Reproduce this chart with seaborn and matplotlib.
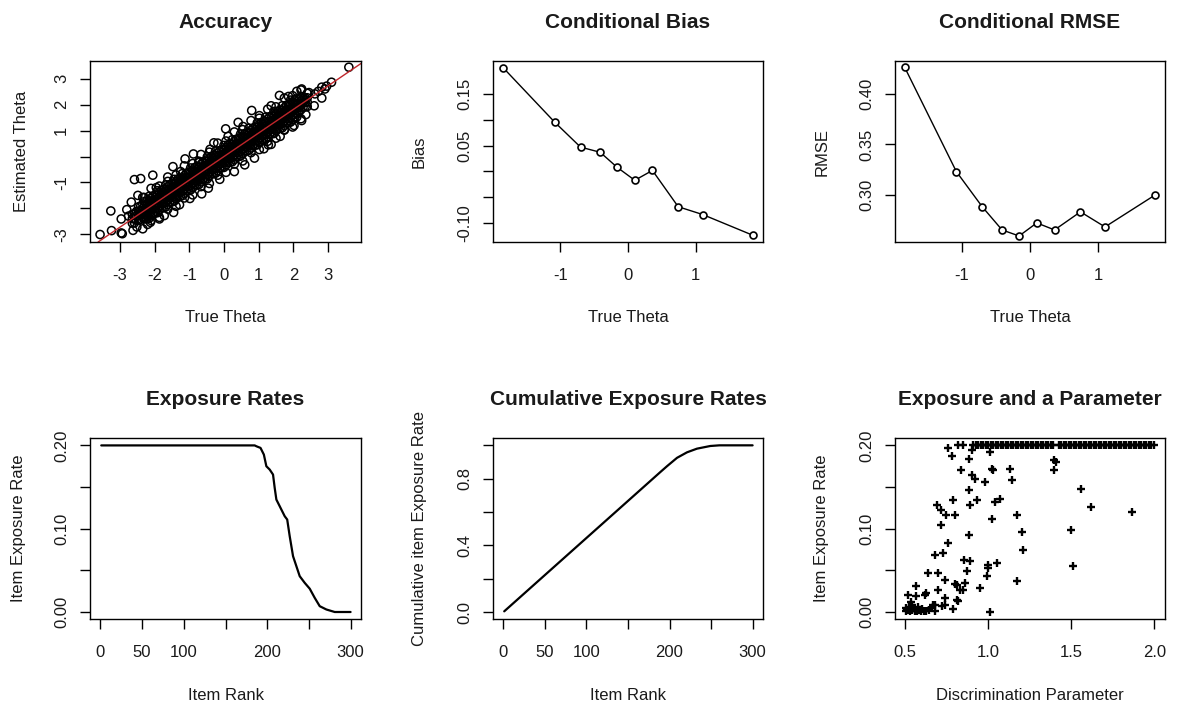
import matplotlib
matplotlib.use('Agg')
import matplotlib.pyplot as plt
import seaborn as sns

# ---- Accuracy: true vs estimated theta ----
# dense core of the cloud, one line per true-theta column
core_true = [
    -2.64, -2.64, -2.64,
    -2.52, -2.52, -2.52,
    -2.40, -2.40, -2.40, -2.40,
    -2.28, -2.28, -2.28, -2.28, -2.28,
    -2.16, -2.16, -2.16, -2.16, -2.16, -2.16,
    -2.04, -2.04, -2.04, -2.04, -2.04,
    -1.92, -1.92, -1.92, -1.92, -1.92, -1.92,
    -1.80, -1.80, -1.80, -1.80, -1.80,
    -1.68, -1.68, -1.68, -1.68, -1.68, -1.68,
    -1.56, -1.56, -1.56, -1.56, -1.56,
    -1.44, -1.44, -1.44, -1.44, -1.44, -1.44,
    -1.32, -1.32, -1.32, -1.32, -1.32,
    -1.20, -1.20, -1.20, -1.20, -1.20, -1.20,
    -1.08, -1.08, -1.08, -1.08, -1.08,
    -0.96, -0.96, -0.96, -0.96, -0.96, -0.96,
    -0.84, -0.84, -0.84, -0.84, -0.84,
    -0.72, -0.72, -0.72, -0.72, -0.72, -0.72,
    -0.60, -0.60, -0.60, -0.60, -0.60,
    -0.48, -0.48, -0.48, -0.48, -0.48, -0.48,
    -0.36, -0.36, -0.36, -0.36, -0.36,
    -0.24, -0.24, -0.24, -0.24, -0.24, -0.24,
    -0.12, -0.12, -0.12, -0.12, -0.12,
    0.00, 0.00, 0.00, 0.00, 0.00, 0.00,
    0.12, 0.12, 0.12, 0.12, 0.12,
    0.24, 0.24, 0.24, 0.24, 0.24, 0.24,
    0.36, 0.36, 0.36, 0.36, 0.36,
    0.48, 0.48, 0.48, 0.48, 0.48, 0.48,
    0.60, 0.60, 0.60, 0.60, 0.60,
    0.72, 0.72, 0.72, 0.72, 0.72, 0.72,
    0.84, 0.84, 0.84, 0.84, 0.84,
    0.96, 0.96, 0.96, 0.96, 0.96, 0.96,
    1.08, 1.08, 1.08, 1.08, 1.08,
    1.20, 1.20, 1.20, 1.20, 1.20, 1.20,
    1.32, 1.32, 1.32, 1.32, 1.32,
    1.44, 1.44, 1.44, 1.44, 1.44, 1.44,
    1.56, 1.56, 1.56, 1.56, 1.56,
    1.68, 1.68, 1.68, 1.68, 1.68, 1.68,
    1.80, 1.80, 1.80, 1.80, 1.80,
    1.92, 1.92, 1.92, 1.92, 1.92, 1.92,
    2.04, 2.04, 2.04, 2.04, 2.04,
    2.16, 2.16, 2.16, 2.16,
    2.28, 2.28, 2.28,
    2.40, 2.40, 2.40, 2.40,
]
core_est = [
    -2.57, -2.40, -2.23,
    -2.46, -2.29, -2.12,
    -2.43, -2.26, -2.09, -1.92,
    -2.41, -2.24, -2.07, -1.90, -1.73,
    -2.39, -2.22, -2.05, -1.88, -1.71, -1.54,
    -2.20, -2.03, -1.86, -1.69, -1.52,
    -2.17, -2.00, -1.83, -1.66, -1.49, -1.32,
    -1.98, -1.81, -1.64, -1.47, -1.30,
    -1.95, -1.78, -1.61, -1.44, -1.27, -1.10,
    -1.76, -1.59, -1.42, -1.25, -1.08,
    -1.73, -1.56, -1.39, -1.22, -1.05, -0.88,
    -1.54, -1.37, -1.20, -1.03, -0.86,
    -1.51, -1.34, -1.17, -1.00, -0.83, -0.66,
    -1.32, -1.15, -0.98, -0.81, -0.64,
    -1.29, -1.12, -0.95, -0.78, -0.61, -0.44,
    -1.10, -0.93, -0.76, -0.59, -0.42,
    -1.08, -0.91, -0.74, -0.57, -0.40, -0.23,
    -0.89, -0.72, -0.55, -0.38, -0.21,
    -0.86, -0.69, -0.52, -0.35, -0.18, -0.01,
    -0.67, -0.50, -0.33, -0.16, 0.01,
    -0.64, -0.47, -0.30, -0.13, 0.04, 0.21,
    -0.45, -0.28, -0.11, 0.06, 0.23,
    -0.42, -0.25, -0.08, 0.09, 0.26, 0.43,
    -0.23, -0.06, 0.11, 0.28, 0.45,
    -0.20, -0.03, 0.14, 0.31, 0.48, 0.65,
    -0.01, 0.16, 0.33, 0.50, 0.67,
    0.02, 0.19, 0.36, 0.53, 0.70, 0.87,
    0.21, 0.38, 0.55, 0.72, 0.89,
    0.24, 0.41, 0.58, 0.75, 0.92, 1.09,
    0.42, 0.59, 0.76, 0.93, 1.10,
    0.45, 0.62, 0.79, 0.96, 1.13, 1.30,
    0.64, 0.81, 0.98, 1.15, 1.32,
    0.67, 0.84, 1.01, 1.18, 1.35, 1.52,
    0.86, 1.03, 1.20, 1.37, 1.54,
    0.89, 1.06, 1.23, 1.40, 1.57, 1.74,
    1.08, 1.25, 1.42, 1.59, 1.76,
    1.11, 1.28, 1.45, 1.62, 1.79, 1.96,
    1.30, 1.47, 1.64, 1.81, 1.98,
    1.33, 1.50, 1.67, 1.84, 2.01, 2.18,
    1.52, 1.69, 1.86, 2.03, 2.20,
    1.72, 1.89, 2.06, 2.23,
    1.90, 2.07, 2.24,
    1.93, 2.10, 2.27, 2.44,
]
# second set of columns lying between the first ones
core2_true = [
    -2.58, -2.58, -2.58,
    -2.46, -2.46, -2.46, -2.46,
    -2.34, -2.34, -2.34, -2.34,
    -2.22, -2.22, -2.22, -2.22, -2.22,
    -2.10, -2.10, -2.10, -2.10, -2.10,
    -1.98, -1.98, -1.98, -1.98, -1.98,
    -1.86, -1.86, -1.86, -1.86, -1.86,
    -1.74, -1.74, -1.74, -1.74, -1.74,
    -1.62, -1.62, -1.62, -1.62, -1.62,
    -1.50, -1.50, -1.50, -1.50, -1.50,
    -1.38, -1.38, -1.38, -1.38, -1.38,
    -1.26, -1.26, -1.26, -1.26, -1.26,
    -1.14, -1.14, -1.14, -1.14, -1.14,
    -1.02, -1.02, -1.02, -1.02, -1.02,
    -0.90, -0.90, -0.90, -0.90, -0.90,
    -0.78, -0.78, -0.78, -0.78, -0.78,
    -0.66, -0.66, -0.66, -0.66, -0.66,
    -0.54, -0.54, -0.54, -0.54, -0.54,
    -0.42, -0.42, -0.42, -0.42, -0.42,
    -0.30, -0.30, -0.30, -0.30, -0.30,
    -0.18, -0.18, -0.18, -0.18, -0.18,
    -0.06, -0.06, -0.06, -0.06, -0.06,
    0.06, 0.06, 0.06, 0.06, 0.06,
    0.18, 0.18, 0.18, 0.18, 0.18,
    0.30, 0.30, 0.30, 0.30, 0.30,
    0.42, 0.42, 0.42, 0.42, 0.42,
    0.54, 0.54, 0.54, 0.54, 0.54,
    0.66, 0.66, 0.66, 0.66, 0.66,
    0.78, 0.78, 0.78, 0.78, 0.78,
    0.90, 0.90, 0.90, 0.90, 0.90,
    1.02, 1.02, 1.02, 1.02, 1.02,
    1.14, 1.14, 1.14, 1.14, 1.14,
    1.26, 1.26, 1.26, 1.26, 1.26,
    1.38, 1.38, 1.38, 1.38, 1.38,
    1.50, 1.50, 1.50, 1.50, 1.50,
    1.62, 1.62, 1.62, 1.62, 1.62,
    1.74, 1.74, 1.74, 1.74, 1.74,
    1.86, 1.86, 1.86, 1.86, 1.86,
    1.98, 1.98, 1.98, 1.98, 1.98,
    2.10, 2.10, 2.10, 2.10, 2.10,
    2.22, 2.22, 2.22, 2.22,
    2.34, 2.34, 2.34,
]
core2_est = [
    -2.56, -2.39, -2.22,
    -2.45, -2.28, -2.11, -1.94,
    -2.34, -2.17, -2.00, -1.83,
    -2.40, -2.23, -2.06, -1.89, -1.72,
    -2.29, -2.12, -1.95, -1.78, -1.61,
    -2.18, -2.01, -1.84, -1.67, -1.50,
    -2.07, -1.90, -1.73, -1.56, -1.39,
    -1.96, -1.79, -1.62, -1.45, -1.28,
    -1.85, -1.68, -1.51, -1.34, -1.17,
    -1.75, -1.58, -1.41, -1.24, -1.07,
    -1.64, -1.47, -1.30, -1.13, -0.96,
    -1.53, -1.36, -1.19, -1.02, -0.85,
    -1.42, -1.25, -1.08, -0.91, -0.74,
    -1.31, -1.14, -0.97, -0.80, -0.63,
    -1.20, -1.03, -0.86, -0.69, -0.52,
    -1.09, -0.92, -0.75, -0.58, -0.41,
    -0.98, -0.81, -0.64, -0.47, -0.30,
    -0.87, -0.70, -0.53, -0.36, -0.19,
    -0.76, -0.59, -0.42, -0.25, -0.08,
    -0.65, -0.48, -0.31, -0.14, 0.03,
    -0.54, -0.37, -0.20, -0.03, 0.14,
    -0.43, -0.26, -0.09, 0.08, 0.25,
    -0.33, -0.16, 0.01, 0.18, 0.35,
    -0.22, -0.05, 0.12, 0.29, 0.46,
    -0.11, 0.06, 0.23, 0.40, 0.57,
    0.00, 0.17, 0.34, 0.51, 0.68,
    0.11, 0.28, 0.45, 0.62, 0.79,
    0.22, 0.39, 0.56, 0.73, 0.90,
    0.33, 0.50, 0.67, 0.84, 1.01,
    0.44, 0.61, 0.78, 0.95, 1.12,
    0.55, 0.72, 0.89, 1.06, 1.23,
    0.66, 0.83, 1.00, 1.17, 1.34,
    0.77, 0.94, 1.11, 1.28, 1.45,
    0.88, 1.05, 1.22, 1.39, 1.56,
    0.99, 1.16, 1.33, 1.50, 1.67,
    1.09, 1.26, 1.43, 1.60, 1.77,
    1.20, 1.37, 1.54, 1.71, 1.88,
    1.31, 1.48, 1.65, 1.82, 1.99,
    1.42, 1.59, 1.76, 1.93, 2.10,
    1.53, 1.70, 1.87, 2.04, 2.21,
    1.81, 1.98, 2.15, 2.32,
    1.92, 2.09, 2.26,
]
# ragged fringe just outside the solid band (upper, then lower)
fringe_true = [-2.34, -2.10, -1.86, -1.62, -1.38, -1.14, -0.90, -0.66, -0.42, -0.18,
               0.06, 0.30, 0.54, 0.78, 1.02, 1.26, 1.50, 1.74, 1.98, 2.22,
               -2.34, -2.10, -1.86, -1.62, -1.38, -1.14, -0.90, -0.66, -0.42, -0.18,
               0.06, 0.30, 0.54, 0.78, 1.02, 1.26, 1.50, 1.74, 1.98, 2.22]
fringe_est = [-1.58, -1.23, -1.14, -0.79, -0.71, -0.36, -0.27, 0.08, 0.17, 0.52,
              0.60, 0.95, 1.04, 1.39, 1.48, 1.83, 1.92, 2.26, 2.35, 2.57,
              -2.79, -2.47, -2.35, -2.03, -1.92, -1.60, -1.48, -1.16, -1.04, -0.72,
              -0.61, -0.29, -0.17, 0.15, 0.27, 0.59, 0.71, 1.02, 1.14, 1.46]
# loose points round the edge of the cloud
edge_true = [-3.57, -3.24, -2.96, -2.93, -3.26, -2.58, -2.40, -2.05, -2.96, -2.67,
             -2.48, -2.51, -2.12, -1.86, -1.45, -1.47, -1.12, -0.64, -0.88, 0.05,
             -0.29, 0.41, 0.80, 1.60, 2.60, 3.60, 3.10, 2.82, 2.91, 2.96,
             2.82, 2.24, 1.74, 1.36, 2.24, 0.60, 1.28, -2.30, -2.20, -1.95,
             -1.72, -1.62, -1.28, -1.25, -0.98, -0.72, -0.45, -0.40, -0.12, 0.12,
             0.30, 0.55, 0.88, 1.02, 1.15, 1.36, 1.62, 1.86, 2.02, 2.10,
             2.36, 2.45, 2.62, 2.72, -2.75, -2.80, -2.62]
edge_est = [-3.01, -2.86, -2.95, -2.98, -2.10, -0.89, -0.85, -0.72, -2.41, -1.76,
            -1.50, -2.72, -2.54, -2.41, -2.16, -0.39, -0.09, -1.44, 0.10, 1.07,
            0.53, 1.32, 1.78, 2.36, 1.96, 3.45, 2.87, 2.68, 2.61, 2.72,
            2.26, 2.61, 1.04, 0.47, 1.39, -0.32, 0.45, -1.58, -2.62, -1.20,
            -2.28, -0.96, -1.86, -0.58, -1.62, -0.18, -1.22, 0.28, -0.88, 0.78,
            -0.58, 1.16, -0.06, 1.58, 0.30, 1.96, 0.78, 2.32, 1.20, 2.52,
            1.62, 2.47, 2.42, 2.52, -2.30, -2.05, -2.85]
fit_intercept = 0.0
fit_slope = 0.91

# ---- conditional bias and RMSE by theta group ----
group_theta = [-1.84, -1.08, -0.70, -0.41, -0.16, 0.10, 0.36, 0.74, 1.10, 1.84]
cond_bias = [0.200, 0.095, 0.047, 0.037, 0.008, -0.017, 0.002, -0.068, -0.083, -0.123]
cond_rmse = [0.427, 0.323, 0.288, 0.265, 0.259, 0.272, 0.265, 0.283, 0.268, 0.300]

# ---- item exposure by rank ----
rank_pts = [1, 185, 187, 192, 196, 199, 203, 207, 209, 211, 215, 221, 224, 227,
            231, 235, 239, 245, 251, 257, 263, 271, 281, 300]
rate_pts = [0.200, 0.200, 0.199, 0.197, 0.189, 0.175, 0.171, 0.165, 0.149, 0.135,
            0.127, 0.115, 0.111, 0.091, 0.067, 0.055, 0.043, 0.035, 0.028, 0.017,
            0.007, 0.003, 0.000, 0.000]
cum_rank = [1, 189, 197, 209, 221, 233, 249, 260, 300]
cum_rate = [0.004, 0.840, 0.875, 0.925, 0.958, 0.980, 0.996, 1.000, 1.000]

# ---- exposure vs discrimination ----
exposure_cap = 0.20
top_a = [0.82, 0.847, 0.91, 0.925, 0.94, 0.955, 0.97, 0.985, 1.00, 1.015, 1.03, 1.045,
         1.06, 1.075, 1.09, 1.105, 1.12, 1.135, 1.15, 1.165, 1.18, 1.195, 1.21, 1.225,
         1.24, 1.255, 1.27, 1.285, 1.30, 1.315, 1.33, 1.345, 1.36, 1.375, 1.39, 1.425,
         1.44, 1.455, 1.47, 1.485, 1.50, 1.515, 1.53, 1.545, 1.56, 1.575, 1.59, 1.605,
         1.62, 1.635, 1.65, 1.665, 1.68, 1.695, 1.71, 1.725, 1.74, 1.755, 1.77, 1.785,
         1.80, 1.815, 1.83, 1.845, 1.86, 1.875, 1.89, 1.905, 1.92, 1.935, 1.95, 1.965,
         1.98, 1.995]
other_a = [0.760, 0.780, 0.900, 0.883, 0.833, 1.011, 1.020, 1.026, 1.131, 1.143,
           0.900, 0.921, 0.983, 0.883, 0.788, 0.931, 1.041, 1.073, 0.688, 0.718,
           0.748, 0.800, 0.890, 1.021, 1.173, 0.718, 0.881, 1.203, 0.760, 0.678,
           0.728, 1.211, 0.851, 0.891, 1.001, 1.001, 1.051, 0.636, 0.698, 0.871,
           0.740, 0.991, 0.800, 0.810, 0.860, 1.171, 0.566, 0.626, 0.620, 0.698,
           0.830, 0.850, 0.951, 0.516, 0.566, 0.740, 0.810, 0.820, 0.532, 0.680,
           0.720, 0.740, 0.790, 0.676, 1.011, 0.510, 0.502, 0.516, 0.530, 0.542,
           0.556, 0.570, 0.582, 0.596, 0.610, 0.626, 0.642, 0.656, 0.522, 0.550,
           0.506, 0.602, 0.666, 0.538, 0.576, 1.394, 1.410, 1.396, 1.560, 1.620,
           1.865, 1.498, 1.508]
other_rate = [0.197, 0.187, 0.194, 0.184, 0.170, 0.192, 0.172, 0.171, 0.172, 0.158,
              0.165, 0.160, 0.156, 0.146, 0.134, 0.134, 0.132, 0.136, 0.128, 0.122,
              0.116, 0.116, 0.128, 0.112, 0.116, 0.104, 0.092, 0.096, 0.083, 0.069,
              0.071, 0.074, 0.063, 0.061, 0.057, 0.053, 0.059, 0.047, 0.047, 0.049,
              0.039, 0.043, 0.034, 0.033, 0.035, 0.037, 0.031, 0.023, 0.021, 0.027,
              0.027, 0.027, 0.029, 0.021, 0.019, 0.017, 0.015, 0.013, 0.012, 0.009,
              0.007, 0.009, 0.004, 0.001, 0.000, 0.003, 0.001, 0.003, 0.001, 0.002,
              0.001, 0.001, 0.003, 0.001, 0.001, 0.001, 0.003, 0.005, 0.006, 0.005,
              0.005, 0.004, 0.008, 0.008, 0.006, 0.183, 0.180, 0.170, 0.148, 0.126,
              0.120, 0.098, 0.055]

sns.set_theme(style='ticks')
plt.rcParams['font.family'] = ['Liberation Sans', 'DejaVu Sans']
plt.rcParams.update({'axes.edgecolor': 'black', 'axes.linewidth': 1.0,
                     'xtick.color': 'black', 'ytick.color': 'black',
                     'text.color': '#1a1a1a', 'axes.labelcolor': '#1a1a1a',
                     'xtick.labelcolor': '#1a1a1a', 'ytick.labelcolor': '#1a1a1a'})

W, H = 1179, 706
fig = plt.figure(figsize=(W / 100, H / 100), dpi=100)


def place(left, top, right, bottom):
    return fig.add_axes([left / W, 1 - bottom / H, (right - left) / W, (bottom - top) / H])


def style(ax, title, xlabel, ylabel, xticks, xlabels, yticks, ylabels, xlim, ylim, ylab_px):
    ax.set_xlim(xlim)
    ax.set_ylim(ylim)
    ax.set_xticks(xticks, xlabels)
    ax.set_yticks(yticks, ylabels, rotation=90, va='center')
    ax.tick_params(length=7.5, width=1, labelsize=12)
    ax.tick_params(axis='x', pad=11.5)
    ax.tick_params(axis='y', pad=7.5)
    ax.set_title(title, fontsize=15, fontweight='bold', pad=23.5)
    ax.set_xlabel(xlabel, fontsize=12, va='center')
    ax.xaxis.set_label_coords(0.5, -76 / 181)
    ax.set_ylabel(ylabel, fontsize=12, va='center')
    ax.yaxis.set_label_coords(-ylab_px / 271, 0.5)
    for s in ax.spines.values():
        s.set_visible(True)
        s.set_linewidth(1.0)


ax1 = place(90, 61, 361, 242)
ax2 = place(493, 61, 763, 242)
ax3 = place(895, 61, 1165, 242)
ax4 = place(90, 438, 361, 619)
ax5 = place(493, 438, 763, 619)
ax6 = place(895, 438, 1165, 619)

# Accuracy
acc_true = edge_true + fringe_true + core_true + core2_true
acc_est = edge_est + fringe_est + core_est + core2_est
sns.scatterplot(x=acc_true, y=acc_est, ax=ax1, marker='o', s=34, facecolors='none',
                edgecolor='black', linewidth=1.1, legend=False)
ax1.axline((0, fit_intercept), slope=fit_slope, color='#c0262b', lw=1.0)
style(ax1, 'Accuracy', 'True Theta', 'Estimated Theta',
      [-3, -2, -1, 0, 1, 2, 3], ['-3', '-2', '-1', '0', '1', '2', '3'],
      [-3, -2, -1, 0, 1, 2, 3], ['-3', '', '-1', '', '1', '2', '3'],
      (-3.86, 3.95), (-3.30, 3.69), 68)

# Conditional bias
sns.lineplot(x=group_theta, y=cond_bias, ax=ax2, color='black', lw=1.0, estimator=None,
             marker='o', ms=5, mfc='white', mec='black', mew=1.2)
style(ax2, 'Conditional Bias', 'True Theta', 'Bias',
      [-1, 0, 1], ['-1', '0', '1'],
      [-0.10, -0.05, 0.0, 0.05, 0.10, 0.15], ['-0.10', '', '', '0.05', '', '0.15'],
      (-1.99, 1.99), (-0.136, 0.213), 74.5)

# Conditional RMSE
sns.lineplot(x=group_theta, y=cond_rmse, ax=ax3, color='black', lw=1.0, estimator=None,
             marker='o', ms=5, mfc='white', mec='black', mew=1.2)
style(ax3, 'Conditional RMSE', 'True Theta', 'RMSE',
      [-1, 0, 1], ['-1', '0', '1'],
      [0.30, 0.35, 0.40], ['0.30', '0.35', '0.40'],
      (-1.98, 1.98), (0.253, 0.433), 73.3)

rank_ticks = [0, 50, 100, 150, 200, 250, 300]
rank_labels = ['0', '50', '100', '', '200', '', '300']
rate_ticks = [0.0, 0.05, 0.10, 0.15, 0.20]
rate_labels = ['0.00', '', '0.10', '', '0.20']

# Exposure rates
sns.lineplot(x=rank_pts, y=rate_pts, ax=ax4, color='black', lw=1.6, estimator=None)
style(ax4, 'Exposure Rates', 'Item Rank', 'Item Exposure Rate',
      rank_ticks, rank_labels, rate_ticks, rate_labels,
      (-12.5, 312.5), (-0.0084, 0.2089), 71.7)

# Cumulative exposure rates
sns.lineplot(x=cum_rank, y=cum_rate, ax=ax5, color='black', lw=1.6, estimator=None)
style(ax5, 'Cumulative Exposure Rates', 'Item Rank', 'Cumulative item Exposure Rate',
      rank_ticks, rank_labels,
      [0.0, 0.2, 0.4, 0.6, 0.8, 1.0], ['0.0', '', '0.4', '', '0.8', ''],
      (-12.5, 312.5), (-0.042, 1.044), 74)

# Exposure vs discrimination parameter
sns.scatterplot(x=top_a + other_a, y=[exposure_cap] * len(top_a) + other_rate, ax=ax6,
                marker='+', s=26, color='black', linewidth=1.7, legend=False)
style(ax6, 'Exposure and a Parameter', 'Discrimination Parameter', 'Item Exposure Rate',
      [0.5, 1.0, 1.5, 2.0], ['0.5', '1.0', '1.5', '2.0'], rate_ticks, rate_labels,
      (0.438, 2.064), (-0.0084, 0.2089), 73.3)

fig.savefig('out.png', dpi=100)
